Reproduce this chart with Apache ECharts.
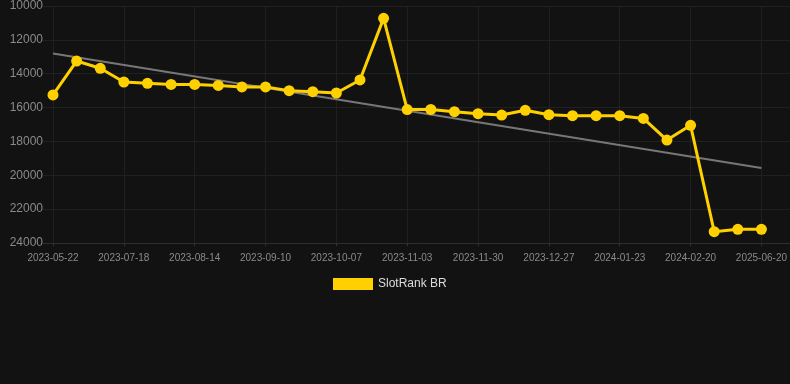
<!DOCTYPE html>
<html>
<head>
<meta charset="utf-8">
<script src="https://cdn.jsdelivr.net/npm/echarts@6/dist/echarts.min.js"></script>
<style>
  html, body { margin: 0; padding: 0; background: #121212; }
  #chart { width: 790px; height: 384px; }
</style>
</head>
<body>
<div id="chart"></div>
<script>
// 日期（每三个显示一个标签）
var dates = [
  '2023-05-22', '2023-06-10', '2023-06-29', '2023-07-18', '2023-07-27', '2023-08-05',
  '2023-08-14', '2023-08-23', '2023-09-01', '2023-09-10', '2023-09-19', '2023-09-28',
  '2023-10-07', '2023-10-16', '2023-10-25', '2023-11-03', '2023-11-12', '2023-11-21',
  '2023-11-30', '2023-12-09', '2023-12-18', '2023-12-27', '2024-01-05', '2024-01-14',
  '2024-01-23', '2024-02-01', '2024-02-10', '2024-02-20', '2025-06-18', '2025-06-19',
  '2025-06-20'
];
// 排名
var ranks = [
  15250, 13250, 13680, 14490, 14570, 14630,
  14630, 14690, 14780, 14780, 15000, 15060,
  15140, 14370, 10730, 16120, 16110, 16240,
  16360, 16440, 16160, 16420, 16480, 16480,
  16480, 16640, 17920, 17050, 23330, 23190,
  23190
];
// 趋势线（首尾两点）
var trendStart = 12800;
var trendEnd = 19570;

var trend = dates.map(function (d, i) {
  if (i === 0) return trendStart;
  if (i === dates.length - 1) return trendEnd;
  return null;
});

var yMin = 10000, yMax = 24000, yStep = 2000;
var gridColor = '#202020';
var labelColor = '#8a8a8a';
var font = 'Arial, "Liberation Sans", sans-serif';

var chart = echarts.init(document.getElementById('chart'));

var option = {
  backgroundColor: '#121212',
  animation: false,
  textStyle: { fontFamily: font },
  legend: {
    data: ['SlotRank BR'],
    left: 328,
    top: 273,
    itemWidth: 40,
    itemHeight: 12,
    itemGap: 10,
    icon: 'rect',
    textStyle: { color: '#dddddd', fontSize: 12, fontFamily: font }
  },
  grid: [
    { left: 53, right: 28, top: 6, bottom: 141 },
    { left: 43, right: 0, top: 6, bottom: 141 }
  ],
  xAxis: [{
    type: 'category',
    gridIndex: 0,
    boundaryGap: false,
    data: dates,
    axisLine: { show: false },
    axisTick: { show: true, interval: 2, length: 3, lineStyle: { color: '#333333' } },
    axisLabel: { interval: 2, color: labelColor, fontSize: 10, margin: 10, fontFamily: font },
    splitLine: { show: true, interval: 2, lineStyle: { color: gridColor, width: 1 } }
  }, {
    type: 'value',
    gridIndex: 1,
    min: 0,
    max: 1,
    axisLine: { show: true, lineStyle: { color: '#2e2e2e' } },
    axisTick: { show: false },
    axisLabel: { show: false },
    splitLine: { show: false }
  }],
  yAxis: [{
    type: 'value',
    gridIndex: 0,
    inverse: true,
    min: yMin,
    max: yMax,
    interval: yStep,
    axisLine: { show: false },
    axisTick: { show: false },
    axisLabel: {
      color: labelColor,
      fontSize: 12,
      margin: 10,
      fontFamily: font,
      formatter: function (v) { return String(v); }
    },
    splitLine: { show: false }
  }, {
    type: 'value',
    gridIndex: 1,
    inverse: true,
    min: yMin,
    max: yMax,
    interval: yStep,
    axisLine: { show: false },
    axisTick: { show: false },
    axisLabel: { show: false },
    splitLine: { show: true, lineStyle: { color: gridColor, width: 1 } }
  }],
  series: [{
    name: 'Trend',
    type: 'line',
    xAxisIndex: 0,
    yAxisIndex: 0,
    data: trend,
    connectNulls: true,
    showSymbol: false,
    symbol: 'none',
    z: 2,
    lineStyle: { color: '#777777', width: 2 },
    itemStyle: { color: '#777777' }
  }, {
    name: 'SlotRank BR',
    type: 'line',
    xAxisIndex: 0,
    yAxisIndex: 0,
    data: ranks,
    symbol: 'circle',
    symbolSize: 11,
    z: 3,
    lineStyle: { color: '#ffd000', width: 3 },
    itemStyle: { color: '#ffd000' }
  }]
};

chart.setOption(option);
</script>
</body>
</html>
